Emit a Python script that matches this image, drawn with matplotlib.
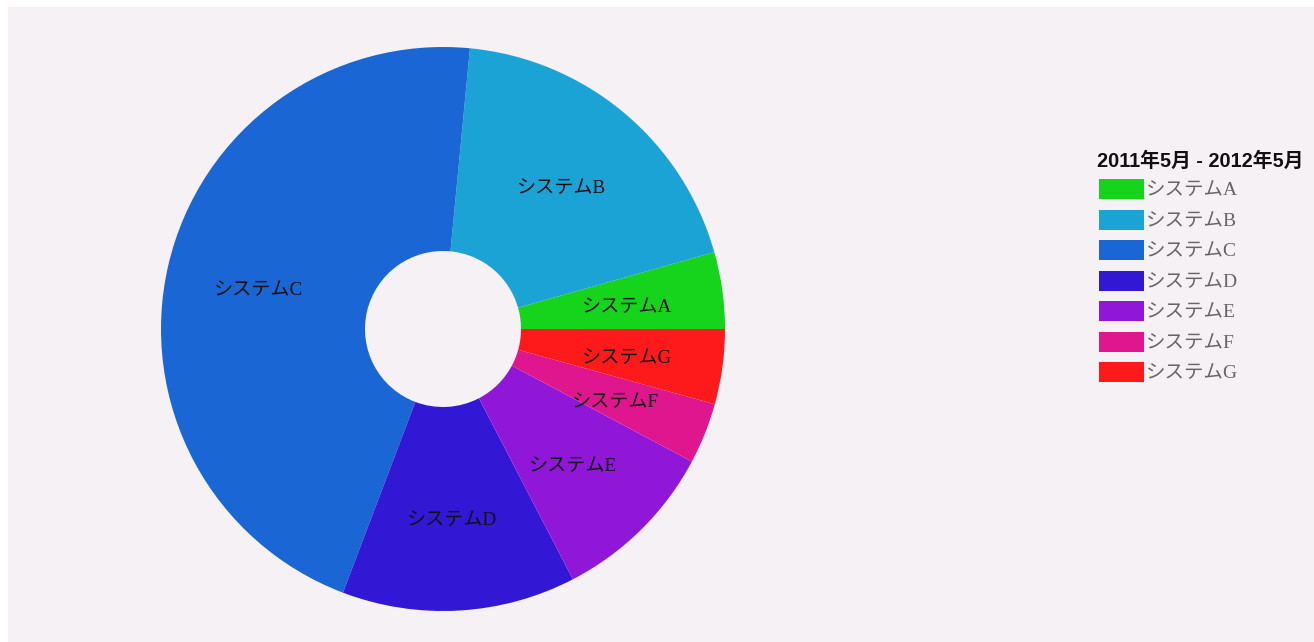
import matplotlib.pyplot as plt
from matplotlib.patches import Rectangle
from matplotlib.transforms import offset_copy

# data
labels = ['システムA', 'システムB', 'システムC', 'システムD', 'システムE', 'システムF', 'システムG']
shares = [4.4, 19.1, 45.8, 13.4, 9.6, 3.5, 4.3]
colors = ['#16d41c', '#1ca3d5', '#1a66d4', '#3217d4', '#9117d8', '#e0168f', '#fe1a1a']
legend_title = '2011年5月 - 2012年5月'

W, H = 1314, 642
fig = plt.figure(figsize=(W / 100, H / 100), dpi=100, facecolor='white')

# panel background
fig.patches.append(Rectangle((8 / W, 0), 1 - 8 / W, 1 - 7 / H, transform=fig.transFigure,
                             facecolor='#f6f1f5', edgecolor='none', zorder=-5))

# donut
cx, cy, r = 443, 329, 282
ax = fig.add_axes([(cx - r) / W, (H - cy - r) / H, 2 * r / W, 2 * r / H])
ax.set_zorder(2)
ax.set_facecolor('none')
wedges, texts = ax.pie(shares, colors=colors, labels=labels, startangle=0, counterclock=True,
                       labeldistance=0.665, radius=1,
                       wedgeprops=dict(width=1 - 78 / 282, linewidth=0),
                       textprops=dict(family=['Liberation Serif', 'Noto Sans CJK JP'],
                                      fontsize=13.8, color='#111111',
                                      ha='center', va='center'))
for t in texts:
    t.set_horizontalalignment('center')
    t.set_transform(offset_copy(ax.transData, fig=fig, x=-2, y=-4, units='dots'))
ax.set_xlim(-1, 1)
ax.set_ylim(-1, 1)
ax.set_aspect('equal')
ax.axis('off')

# legend
fig.text(1097 / W, 1 - 161 / H, legend_title, fontsize=14.3, fontweight='bold',
         family=['Liberation Sans', 'Noto Sans CJK JP'], color='#111111', va='center', ha='left')
for i, (lab, col) in enumerate(zip(labels, colors)):
    y = 189 + i * 30.5
    fig.patches.append(Rectangle((1099 / W, 1 - (y + 10) / H), 45 / W, 20 / H,
                                 transform=fig.transFigure, facecolor=col, edgecolor='none'))
    fig.text(1146 / W, 1 - (y + 2) / H, lab, fontsize=14, color='#666666',
             family=['Liberation Serif', 'Noto Sans CJK JP'], va='center', ha='left')

fig.savefig('out.png', dpi=100, facecolor='white')
